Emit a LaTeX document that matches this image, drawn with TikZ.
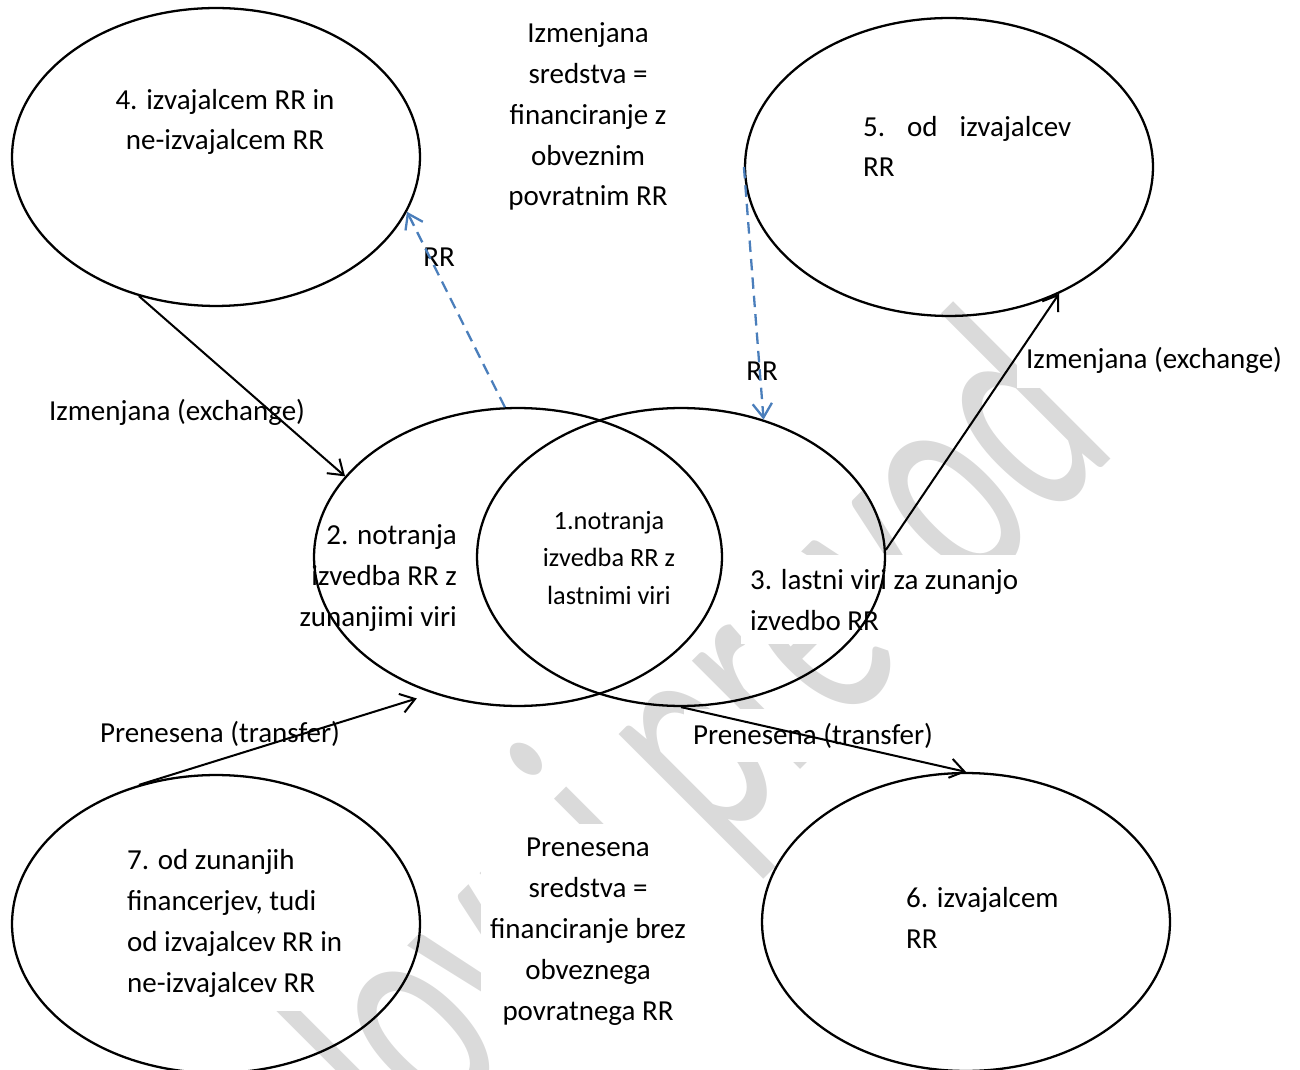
\documentclass[tikz,border=0pt]{standalone}
\usepackage{fontspec}
\setmainfont{Carlito}
\usepackage{tikz}
\usetikzlibrary{arrows.meta, shapes.geometric, positioning}

\definecolor{modra}{HTML}{4A7EBB}
\definecolor{vodni}{HTML}{DADADA}

\tikzstyle{elipsa} = [draw, ellipse, line width = 1.3pt, minimum width = 8.16cm, minimum height = 5.96cm, inner sep = 0pt]
\tikzstyle{puscica} = [-{Straight Barb[length = 8pt, width = 11pt]}, line width = 1.15pt]
\tikzstyle{crtkano} = [-{Straight Barb[length = 8pt, width = 11pt]}, line width = 1.3pt, color = modra, dash pattern = on 6.5pt off 4pt]
\tikzstyle{besedilo} = [fill = white, inner xsep = 5pt, inner ysep = 8pt, font = \fontsize{16.5}{23.25}\selectfont]

\begin{document}
\begin{tikzpicture}[x = 0.02cm, y = -0.02cm, manjse/.style = {besedilo, font = \fontsize{15}{21.3}\selectfont}]
    	\useasboundingbox (0, 0) rectangle (1300, 1070);
    	% Vodni znak
    	\begin{scope}
    	\clip (0, 0) rectangle (1300, 1070);
    	\node[anchor = base east, rotate = 45, inner sep = 0pt, text = vodni] (znak) at (1121, 449) {\scalebox{1}[1.6]{\fontsize{114}{114}\selectfont Delovni prevod}};
    	\end{scope}
    	% Besedila (sidro = zadnja vrstica)
    	\node[besedilo, align = center, anchor = base] (izmSred) at (588, 206) {Izmenjana\\ sredstva =\\ financiranje z\\ obveznim\\ povratnim RR};
    	\node[besedilo, align = center, anchor = base] (t4) at (225, 150) {4. izvajalcem RR in\\ ne-izvajalcem RR};
    	\node[besedilo, align = left, anchor = base west] (t5) at (854, 177) {5.\hspace{0.44cm}od\hspace{0.44cm}izvajalcev\\ RR};
    	\node[besedilo, anchor = base] (izmLevo) at (177, 421) {Izmenjana (exchange)};
    	\node[besedilo, anchor = base] (izmDesno) at (1154, 369) {Izmenjana (exchange)};
    	\node[besedilo, anchor = base] (rrLevo) at (439, 267) {RR};
    	\node[besedilo, anchor = base] (rrDesno) at (762, 381) {RR};
    	\node[besedilo, align = right, anchor = base east] (t2) at (466, 626) {2. notranja\\ izvedba RR z\\ zunanjimi viri};
    	\node[manjse, align = center, anchor = base] (t1) at (609, 604) {1.notranja\\ izvedba RR z\\ lastnimi viri};
    	\node[besedilo, align = left, anchor = base west] (t3) at (741, 630) {3. lastni viri za zunanjo\\ izvedbo RR};
    	\node[besedilo, anchor = base] (prenLevo) at (220, 742) {Prenesena (transfer)};
    	\node[besedilo, anchor = base] (prenDesno) at (813, 744) {Prenesena (transfer)};
    	\node[besedilo, align = center, anchor = base] (prenSred) at (588, 1020) {Prenesena\\ sredstva =\\ financiranje brez\\ obveznega\\ povratnega RR};
    	\node[besedilo, align = left, anchor = base west] (t7) at (118, 992) {7. od zunanjih\\ financerjev, tudi\\ od izvajalcev RR in\\ ne-izvajalcev RR};
    	\node[besedilo, align = left, anchor = base west] (t6) at (897, 948) {6. izvajalcem\\ RR};
    	% Elipse
    	\node[elipsa] (el4) at (216, 157) {};
    	\node[elipsa] (el5) at (949, 167) {};
    	\node[elipsa] (el2) at (518, 557) {};
    	\node[elipsa] (el3) at (681, 557) {};
    	\node[elipsa] (el6) at (966, 922) {};
    	\node[elipsa] (el7) at (216, 924) {};
    	% Puscice
    	\draw[puscica] (el4.241) -- (el2.155);
    	\draw[puscica] (el3.2) -- (el5.311);
    	\draw[puscica, shorten >= 9.5pt] (el7.119) -- (el2.238);
    	\draw[puscica] (el3.south) -- (el6.north);
    	% RR tokovi
    	\draw[crtkano] (el2.95) -- (el4.344);
    	\draw[crtkano] (el5.west) -- (el3.59);
    \end{tikzpicture}
\end{document}
